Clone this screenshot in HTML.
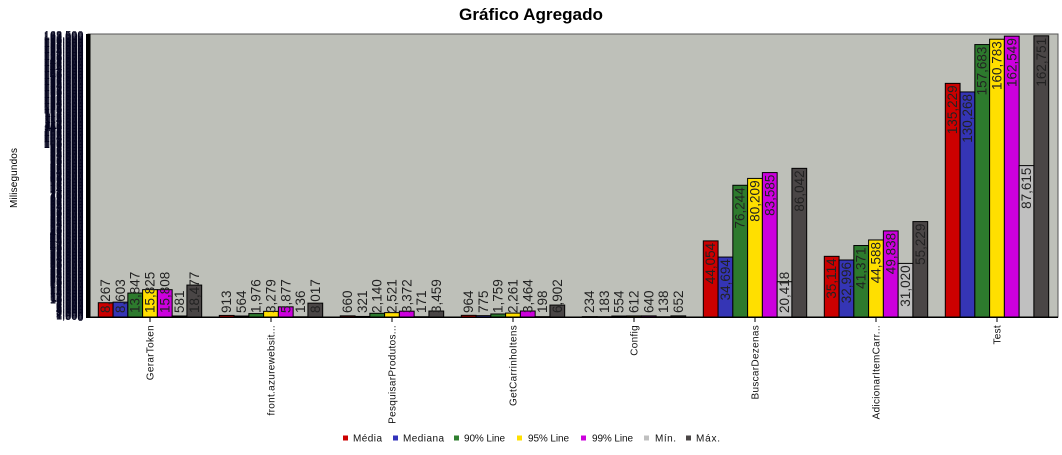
<!DOCTYPE html>
<html>
<head>
<meta charset="utf-8">
<style>
html,body{margin:0;padding:0;background:#fff;width:1062px;height:455px;overflow:hidden}
svg{display:block;font-family:"Liberation Sans",sans-serif}
</style>
</head>
<body>
<svg id="chart" width="1062" height="455" viewBox="0 0 1062 455" xmlns="http://www.w3.org/2000/svg">

<text x="531" y="20" text-anchor="middle" font-size="17" font-weight="bold" textLength="144" lengthAdjust="spacingAndGlyphs" fill="#000">Gráfico Agregado</text>
<text transform="translate(17,178) rotate(-90)" text-anchor="middle" font-size="10" textLength="60" fill="#000">Milisegundos</text>

<rect x="88" y="34" width="970" height="283" fill="#bec0b9" stroke="#555" stroke-width="1"/>
<g id="y-ticks" font-size="11" fill="#05051f" text-anchor="end"></g>
<g id="bars"></g>
<g id="value-labels" font-size="13.5" fill="#222"></g>
<rect x="86" y="34" width="4.5" height="284" fill="#000"/>
<rect x="86" y="316.5" width="972" height="1.5" fill="#000"/>
<g id="x-ticks" font-size="10" fill="#111"></g>

<g font-size="10" fill="#111">
<g><rect x="343" y="435.5" width="5" height="5" fill="#cc0000"/><text x="353" y="441.5" textLength="29">Média</text></g>
<g><rect x="393" y="435.5" width="5" height="5" fill="#3333bb"/><text x="403" y="441.5" textLength="41">Mediana</text></g>
<g><rect x="454" y="435.5" width="5" height="5" fill="#2f7f2f"/><text x="464" y="441.5" textLength="41">90% Line</text></g>
<g><rect x="517" y="435.5" width="5" height="5" fill="#ffe000"/><text x="528" y="441.5" textLength="41">95% Line</text></g>
<g><rect x="581" y="435.5" width="5" height="5" fill="#cc00dd"/><text x="592" y="441.5" textLength="41">99% Line</text></g>
<g><rect x="644" y="435.5" width="5" height="5" fill="#c0c0c0"/><text x="655" y="441.5" textLength="21">Mín.</text></g>
<g><rect x="686" y="435.5" width="5" height="5" fill="#4a4646"/><text x="696" y="441.5" textLength="24">Máx.</text></g>
</g>
</svg>

<script>
const categories = ["GerarToken", "front.azurewebsit...", "PesquisarProdutos...", "GetCarrinhoItens", "Config", "BuscarDezenas", "AdicionarItemCarr...", "Test"];
const media = [8267, 913, 660, 964, 234, 44054, 35114, 135229];
const mediana = [8603, 564, 321, 775, 183, 34694, 32996, 130268];
const line90 = [13847, 1976, 2140, 1759, 554, 76244, 41371, 157683];
const line95 = [15825, 3279, 2521, 2261, 612, 80209, 44588, 160783];
const line99 = [15808, 5877, 3372, 3464, 640, 83585, 49838, 162549];
const minimo = [581, 136, 171, 198, 138, 20418, 31020, 87615];
const maximo = [18477, 8017, 3459, 6902, 652, 86042, 55229, 162751];
const seriesNames = ["media", "mediana", "90-line", "95-line", "99-line", "min", "max"];
const seriesValues = [media, mediana, line90, line95, line99, minimo, maximo];
const seriesFills = ["#cc0000", "#3535b5", "#2d7a2d", "#ffdf00", "#cc00dd", "#c0c0c0", "#4a4646"];
const axisMax = 163800;
const axisStep = 500;

const NS = "http://www.w3.org/2000/svg";
const plotBottom = 317, plotTop = 34;
const firstBarX = 98.3, groupStep = 121, barW = 14.77;
const yScale = v => plotBottom - (v / axisMax) * (plotBottom - plotTop);
const barX = (g, s) => firstBarX + g * groupStep + s * barW;
const groupCenter = g => firstBarX + g * groupStep + barW * 3.5;
const fmt = v => v.toLocaleString("en-US");

const yTicks = document.getElementById("y-ticks");
for (let v = 0; v <= axisMax; v += axisStep) {
  const t = document.createElementNS(NS, "text");
  
  
  t.setAttribute("x", 83.5);
  t.setAttribute("y", yScale(v) + 4);
  t.textContent = fmt(v);
  yTicks.appendChild(t);
}

const barsG = document.getElementById("bars");
const labelsG = document.getElementById("value-labels");
seriesValues.forEach((vals, s) => {
  vals.forEach((v, g) => {
    const top = yScale(v);
    const r = document.createElementNS(NS, "rect");
    
    
    r.setAttribute("x", barX(g, s));
    r.setAttribute("y", top);
    r.setAttribute("width", barW);
    r.setAttribute("height", plotBottom - top);
    r.setAttribute("fill", seriesFills[s]);
    r.setAttribute("stroke", "#000");
    r.setAttribute("stroke-width", "1");
    barsG.appendChild(r);

    const label = fmt(v);
    const approxLen = label.replace(",", "").length * 7.5 + (label.includes(",") ? 3.8 : 0);
    const fits = plotBottom - top >= approxLen + 6;
    const t = document.createElementNS(NS, "text");
    
    
    const lx = barX(g, s) + barW / 2 + 4.5;
    const ly = fits ? top + 2 : plotBottom - 4;
    t.setAttribute("transform", "translate(" + lx + "," + ly + ") rotate(-90)");
    t.setAttribute("text-anchor", fits ? "end" : "start");
    t.textContent = label;
    labelsG.appendChild(t);
  });
});

const xTicks = document.getElementById("x-ticks");
categories.forEach((c, g) => {
  const cx = groupCenter(g);
  const l = document.createElementNS(NS, "line");
  
  
  l.setAttribute("x1", cx); l.setAttribute("x2", cx);
  l.setAttribute("y1", plotBottom); l.setAttribute("y2", plotBottom + 5);
  l.setAttribute("stroke", "#000");
  xTicks.appendChild(l);
  const t = document.createElementNS(NS, "text");
  
  
  t.setAttribute("transform", "translate(" + (cx + 3.5) + ",325) rotate(-90)");
  t.setAttribute("text-anchor", "end");
  t.setAttribute("letter-spacing", "0.3");
  t.textContent = c;
  xTicks.appendChild(t);
});
</script>
</body>
</html>
